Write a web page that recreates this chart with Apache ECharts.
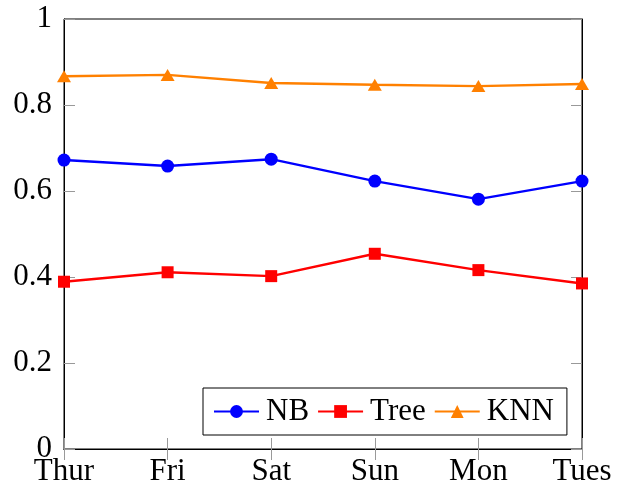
<!DOCTYPE html>
<html><head><meta charset="utf-8">
<script src="https://cdn.jsdelivr.net/npm/echarts@6/dist/echarts.min.js"></script>
<style>html,body{margin:0;padding:0;background:#fff}#c{width:623px;height:489px}</style>
</head><body><div id="c"></div>
<script>
const categories = ['Thur','Fri','Sat','Sun','Mon','Tues'];
const nb = [0.672, 0.658, 0.674, 0.623, 0.581, 0.623];
const tree = [0.389, 0.411, 0.402, 0.454, 0.416, 0.385];
const knn = [0.867, 0.870, 0.851, 0.847, 0.844, 0.849];
const yTicks = [0, 0.2, 0.4, 0.6, 0.8, 1];

const font = 'Liberation Serif';
const chart = echarts.init(document.getElementById('c'), null, {renderer:'canvas'});
const tickStyle = {show:true, inside:true, length:11, lineStyle:{color:'#999', width:1}};
function ser(name, data, color, symbol, size){
  return {name, type:'line', data, color, symbol, symbolSize:size, showSymbol:true,
    lineStyle:{color, width:2.4}, itemStyle:{color}, animation:false, xAxisIndex:0, yAxisIndex:0};
}
chart.setOption({
  animation:false,
  grid:{left:64, top:19, width:518, height:430, show:true, borderColor:'#000', borderWidth:1, backgroundColor:'transparent'},
  xAxis:[{type:'category', data:categories, boundaryGap:false, position:'bottom',
    axisLine:{show:true, lineStyle:{color:'#000', width:1}},
    axisTick:Object.assign({alignWithLabel:true}, tickStyle),
    axisLabel:{fontFamily:font, fontSize:31, color:'#000', margin:7, interval:0},
    splitLine:{show:false}},
   {type:'category', data:categories, boundaryGap:false, position:'top',
    axisLine:{show:true, lineStyle:{color:'#000', width:1}},
    axisTick:tickStyle, axisLabel:{show:false}, splitLine:{show:false}}],
  yAxis:[{type:'value', min:0, max:1, interval:0.2, position:'left',
    axisLine:{show:true, lineStyle:{color:'#000', width:1}},
    axisTick:tickStyle,
    axisLabel:{fontFamily:font, fontSize:31, color:'#000', margin:12,
      formatter:v=>{const t=yTicks.find(x=>Math.abs(x-v)<1e-9); return String(+t.toFixed(1));}},
    splitLine:{show:false}},
   {type:'value', min:0, max:1, interval:0.2, position:'right',
    axisLine:{show:true, lineStyle:{color:'#000', width:1}},
    axisTick:tickStyle, axisLabel:{show:false}, splitLine:{show:false}}],
  legend:{left:203, top:388, orient:'horizontal', backgroundColor:'#fff', borderColor:'#000', borderWidth:1,
    borderRadius:0, padding:[8,13,8,10], itemGap:8, itemWidth:45, itemHeight:16,
    textStyle:{fontFamily:font, fontSize:31, color:'#000', padding:[0,0,0,2]},
    data:['NB','Tree','KNN']},
  series:[ser('NB', nb, '#0000ff', 'circle', 13),
          ser('Tree', tree, '#ff0000', 'rect', 12),
          ser('KNN', knn, '#ff8000', 'triangle', [14,12])]
});
</script></body></html>
